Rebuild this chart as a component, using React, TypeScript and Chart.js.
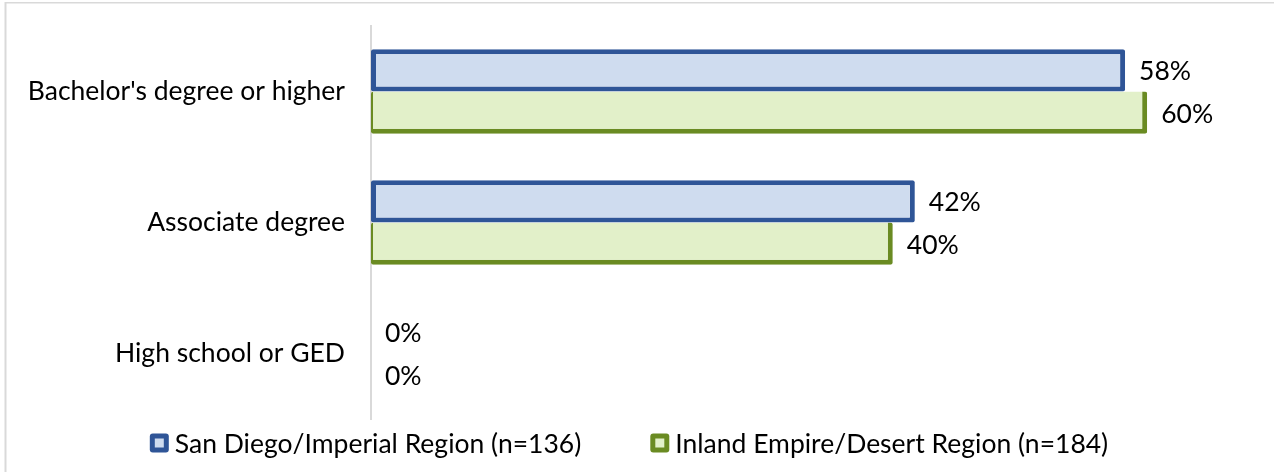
import React, { useEffect, useRef } from "react";
import { Chart, registerables } from "chart.js";

Chart.register(...registerables);

const categories = ["Bachelor's degree or higher", "Associate degree", "High school or GED"];
const seriesNames = ["San Diego/Imperial Region (n=136)", "Inland Empire/Desert Region (n=184)"];
const sanDiegoValues = [58.1, 41.9, 0];
const inlandEmpireValues = [59.8, 40.2, 0];

const FONT = "Lato, 'Open Sans', sans-serif";
const FONT_SIZE = 26.5;
const BLUE_BORDER = "#2f5597";
const BLUE_FILL = "#cfdcef";
const GREEN_BORDER = "#6a8b22";
const GREEN_FILL = "#e2f0c9";

export default function App() {
  const ref = useRef<HTMLCanvasElement | null>(null);

  useEffect(() => {
    if (!ref.current) return;

    const framePlugin = {
      id: "frame",
      beforeDraw(chart: any) {
        const ctx = chart.ctx;
        ctx.save();
        ctx.fillStyle = "#ffffff";
        ctx.fillRect(0, 0, chart.width, chart.height);
        ctx.fillStyle = "#d9d9d9";
        ctx.fillRect(5, 2, chart.width, 1.5);
        ctx.fillRect(4.5, 2, 2, chart.height);
        ctx.restore();
      },
    };

    const valueLabelPlugin = {
      id: "valueLabels",
      afterDatasetsDraw(chart: any) {
        const ctx = chart.ctx;
        ctx.save();
        ctx.font = `${FONT_SIZE}px ${FONT}`;
        ctx.fillStyle = "#000";
        ctx.textAlign = "left";
        ctx.textBaseline = "middle";
        chart.data.datasets.forEach((ds: any, di: number) => {
          const meta = chart.getDatasetMeta(di);
          meta.data.forEach((el: any, i: number) => {
            const v = ds.data[i];
            ctx.fillText(`${Math.round(v)}%`, el.x + 14, el.y + 1.5);
          });
        });
        ctx.restore();
      },
    };

    const legendPlugin = {
      id: "customLegend",
      afterDraw(chart: any) {
        const ctx = chart.ctx;
        ctx.save();
        ctx.font = `${FONT_SIZE}px ${FONT}`;
        const box = 19;
        const gapBoxText = 6;
        const gapItems = 69;
        const items = chart.data.datasets.map((ds: any) => ({
          text: ds.label,
          border: ds.borderColor,
          fill: ds.backgroundColor,
          w: ctx.measureText(ds.label).width,
        }));
        const total =
          items.reduce((s: number, it: any) => s + box + gapBoxText + it.w, 0) + gapItems * (items.length - 1);
        let x = 629 - total / 2;
        const cy = 443;
        items.forEach((it: any) => {
          ctx.fillStyle = it.border;
          ctx.beginPath();
          (ctx as any).roundRect(x, cy - box / 2, box, box, 3);
          ctx.fill();
          ctx.fillStyle = it.fill;
          ctx.fillRect(x + 5, cy - box / 2 + 5, box - 10, box - 10);
          ctx.fillStyle = "#000";
          ctx.textAlign = "left";
          ctx.textBaseline = "middle";
          ctx.fillText(it.text, x + box + gapBoxText, cy + 1);
          x += box + gapBoxText + it.w + gapItems;
        });
        ctx.restore();
      },
    };

    const chart = new Chart(ref.current, {
      type: "bar",
      data: {
        labels: categories,
        datasets: [
          {
            label: seriesNames[0],
            data: sanDiegoValues,
            backgroundColor: BLUE_FILL,
            borderColor: BLUE_BORDER,
            borderWidth: 5,
            borderSkipped: false,
            borderRadius: 2,
            categoryPercentage: 0.645,
            barPercentage: 1,
          },
          {
            label: seriesNames[1],
            data: inlandEmpireValues,
            backgroundColor: GREEN_FILL,
            borderColor: GREEN_BORDER,
            borderWidth: { top: 0, left: 2, right: 5, bottom: 5 },
            borderSkipped: false,
            borderRadius: 2,
            categoryPercentage: 0.645,
            barPercentage: 1,
          },
        ],
      },
      options: {
        indexAxis: "y",
        animation: false,
        responsive: true,
        maintainAspectRatio: false,
        layout: { padding: { top: 26, right: 20.4, bottom: 53, left: 0 } },
        scales: {
          x: { min: 0, max: 68, display: false },
          y: {
            grid: { display: false, drawTicks: false },
            border: { display: true, color: "#d9d9d9", width: 2 },
            ticks: {
              padding: 26,
              color: "#000",
              font: { family: FONT, size: FONT_SIZE },
            },
            afterFit(scale: any) {
              scale.width = 371;
              scale.paddingTop = 0;
              scale.paddingBottom = 0;
            },
          },
        },
        plugins: {
          legend: { display: false },
          tooltip: { enabled: false },
        },
      } as any,
      plugins: [framePlugin, valueLabelPlugin, legendPlugin],
    });

    return () => chart.destroy();
  }, []);

  return (
    <div style={{ position: "fixed", left: 0, top: 0, width: 1274, height: 472, background: "#fff" }}>
      <canvas ref={ref} />
    </div>
  );
}
